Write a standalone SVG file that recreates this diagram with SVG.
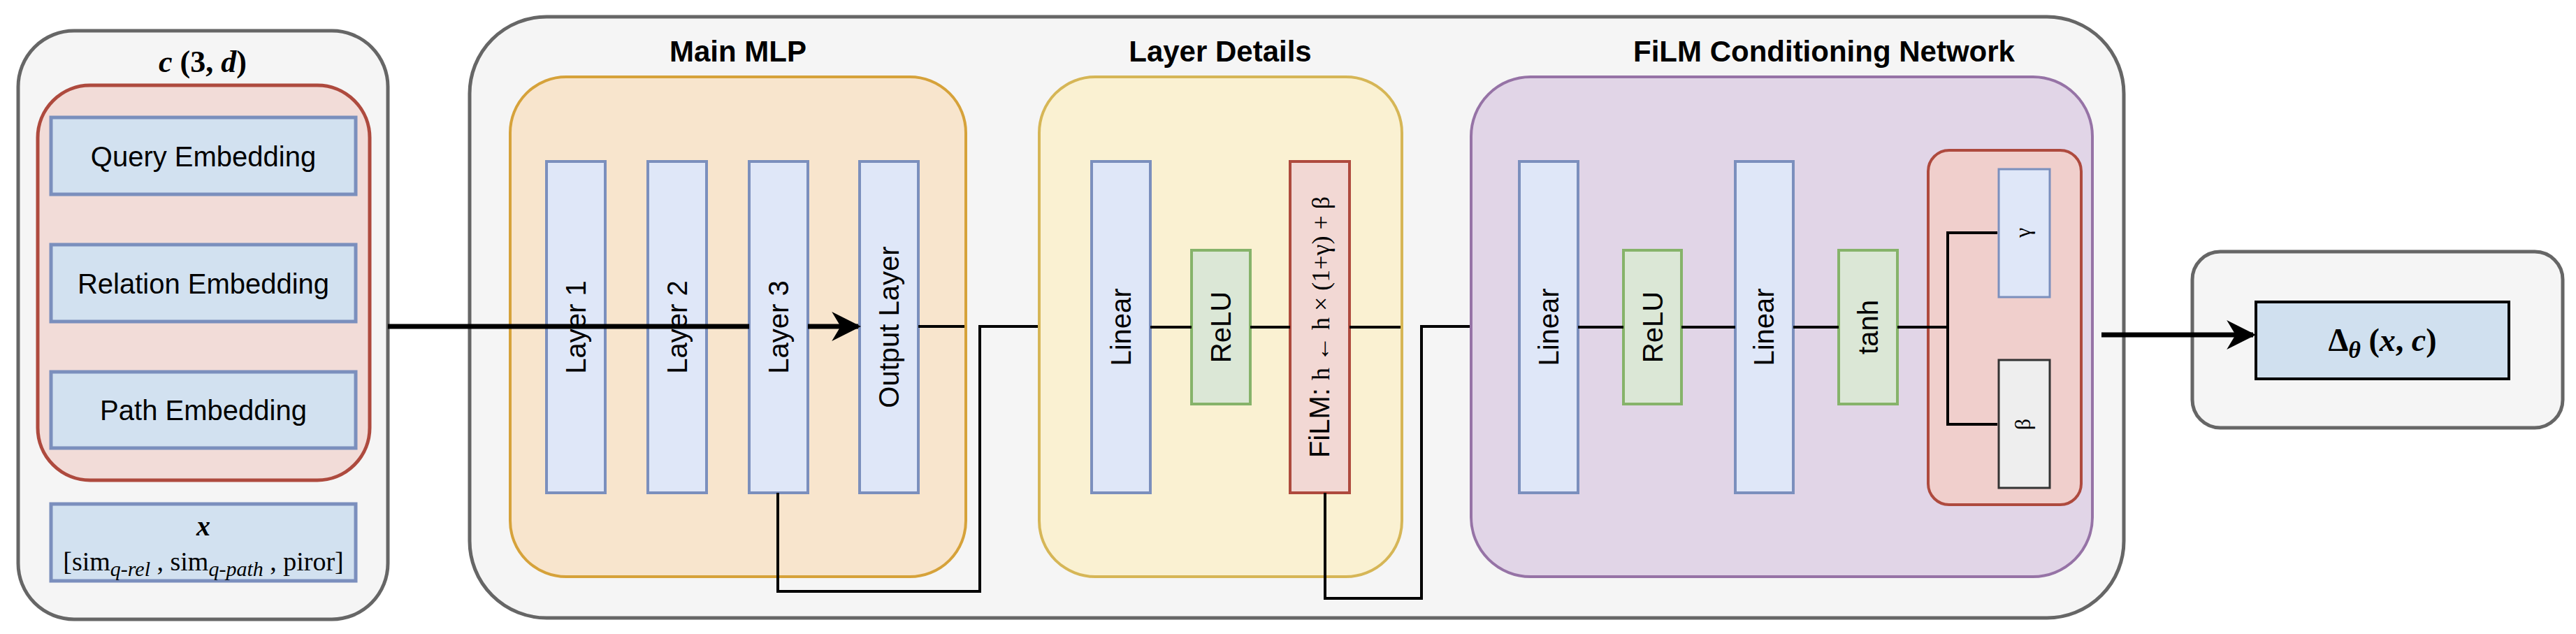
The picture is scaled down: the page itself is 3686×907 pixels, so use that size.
<svg xmlns="http://www.w3.org/2000/svg" width="3686" height="907" viewBox="0 0 3686 907">
<style>
.outer{fill:#f5f5f5;stroke:#666;stroke-width:5}
.blue{fill:#d2e1f0;stroke:#7b8fbd;stroke-width:5}
.lay{fill:#dfe7f8;stroke:#7b8fbd;stroke-width:4}
.grn{fill:#dbe7d6;stroke:#86b36a;stroke-width:4}
.t{font-family:"Liberation Sans",Arial,sans-serif;font-size:40px;fill:#000;text-anchor:middle}
.ti{font-family:"Liberation Sans",Arial,sans-serif;font-size:42px;font-weight:bold;fill:#000;text-anchor:middle}
.s{font-family:"Liberation Serif","Times New Roman",serif;fill:#000;text-anchor:middle}
.c{fill:none;stroke:#000;stroke-width:4}
.ck{fill:none;stroke:#000;stroke-width:7}
</style>
<defs>
<marker id="a" viewBox="0 0 10 10" refX="9" refY="5" markerWidth="5" markerHeight="5" markerUnits="userSpaceOnUse" orient="auto"><path d="M0,0 L10,5 L0,10 L3,5 Z" fill="#000"/></marker>
<marker id="ab" viewBox="0 0 10 10" refX="9" refY="5" markerWidth="6" markerHeight="6" orient="auto"><path d="M0,0 L10,5 L0,10 L3,5 Z" fill="#000"/></marker>
</defs>

<g id="input">
<rect class="outer" x="26" y="44" width="529" height="842" rx="80"/>
<text class="s" x="290" y="103" font-size="44" font-weight="bold" font-style="italic">c <tspan font-style="normal">(3, </tspan>d<tspan font-style="normal">)</tspan></text>
<rect x="54" y="122" width="475" height="565" rx="75" fill="#f2dcd8" stroke="#ae4a3e" stroke-width="5"/>
<rect class="blue" x="73" y="168" width="436" height="110"/>
<text class="t" x="291" y="238">Query Embedding</text>
<rect class="blue" x="73" y="350" width="436" height="110"/>
<text class="t" x="291" y="420">Relation Embedding</text>
<rect class="blue" x="73" y="532" width="436" height="109"/>
<text class="t" x="291" y="601">Path Embedding</text>
<rect class="blue" x="73" y="721" width="436" height="110"/>
<text class="s" x="291" y="766" font-size="40" font-weight="bold" font-style="italic">x</text>
<text class="s" x="291" y="816" font-size="38">[sim<tspan font-style="italic" font-size="30" dy="8">q-rel</tspan><tspan dy="-8"> , sim</tspan><tspan font-style="italic" font-size="30" dy="8">q-path</tspan><tspan dy="-8"> , piror]</tspan></text>
</g>

<g id="main">
<rect class="outer" x="672" y="24" width="2367" height="860" rx="110"/>
<text class="ti" x="1056" y="88">Main MLP</text>
<text class="ti" x="1746" y="88">Layer Details</text>
<text class="ti" x="2610" y="88">FiLM Conditioning Network</text>
</g>

<g id="mlp">
<rect x="730" y="110" width="652" height="715" rx="80" fill="#f8e5cd" stroke="#d6a23a" stroke-width="4"/>
<rect class="lay" x="782" y="231" width="84" height="474"/>
<rect class="lay" x="927" y="231" width="84" height="474"/>
<rect class="lay" x="1072" y="231" width="84" height="474"/>
<rect class="lay" x="1230" y="231" width="84" height="474"/>
<text class="t" transform="translate(838,468) rotate(-90)">Layer 1</text>
<text class="t" transform="translate(983,468) rotate(-90)">Layer 2</text>
<text class="t" transform="translate(1128,468) rotate(-90)">Layer 3</text>
<text class="t" transform="translate(1286,468) rotate(-90)">Output Layer</text>
</g>

<g id="details">
<rect x="1487" y="110" width="519" height="715" rx="80" fill="#faf1d2" stroke="#d6b656" stroke-width="4"/>
<rect class="lay" x="1562" y="231" width="84" height="474"/>
<text class="t" transform="translate(1618,468) rotate(-90)">Linear</text>
<rect class="grn" x="1705" y="358" width="84" height="220"/>
<text class="t" transform="translate(1761,468) rotate(-90)">ReLU</text>
<rect x="1846" y="231" width="85" height="474" fill="#f2d8d4" stroke="#ae4a3e" stroke-width="4"/>
<text class="t" transform="translate(1902,468) rotate(-90)">FiLM: <tspan class="s" font-size="36">h ← h × (1+γ) + β</tspan></text>
</g>

<g id="film">
<rect x="2105" y="110" width="889" height="715" rx="85" fill="#e1d5e7" stroke="#9673a6" stroke-width="4"/>
<rect class="lay" x="2174" y="231" width="84" height="474"/>
<text class="t" transform="translate(2230,468) rotate(-90)">Linear</text>
<rect class="grn" x="2323" y="358" width="83" height="220"/>
<text class="t" transform="translate(2379,468) rotate(-90)">ReLU</text>
<rect class="lay" x="2483" y="231" width="83" height="474"/>
<text class="t" transform="translate(2538,468) rotate(-90)">Linear</text>
<rect class="grn" x="2631" y="358" width="84" height="220"/>
<text class="t" transform="translate(2687,468) rotate(-90)">tanh</text>
<rect x="2759" y="215" width="219" height="507" rx="30" fill="#f0cfcc" stroke="#ae4a3e" stroke-width="4"/>
<rect x="2860" y="242" width="73" height="183" fill="#dfe7f8" stroke="#7b8fbd" stroke-width="3"/>
<text class="s" font-size="32" transform="translate(2905,333) rotate(-90)">γ</text>
<rect x="2860" y="515" width="73" height="183" fill="#eeeeee" stroke="#333" stroke-width="3"/>
<text class="s" font-size="32" transform="translate(2905,607) rotate(-90)">β</text>
</g>

<g id="output">
<rect class="outer" x="3137" y="360" width="530" height="252" rx="40"/>
<rect x="3228" y="432" width="362" height="110" fill="#d0e0ef" stroke="#000" stroke-width="4"/>
<text class="s" x="3409" y="502" font-size="46" font-weight="bold">Δ<tspan font-style="italic" font-size="34" dy="10">θ</tspan><tspan dy="-10"> (</tspan><tspan font-style="italic">x</tspan>, <tspan font-style="italic">c</tspan>)</text>
</g>

<g id="connectors">
<path class="ck" d="M555,467 H1072"/>
<path class="ck" d="M1156,467 H1228" marker-end="url(#ab)"/>
<path class="c" d="M1314,467 H1380" marker-end="url(#a)"/>
<path class="c" d="M1113,705 V846 H1402 V467 H1485" marker-end="url(#a)"/>
<path class="c" d="M1646,468 H1705 M1789,468 H1846"/>
<path class="c" d="M1931,468 H2004" marker-end="url(#a)"/>
<path class="c" d="M1896,705 V856 H2034 V467 H2103" marker-end="url(#a)"/>
<path class="c" d="M2258,468 H2323 M2406,468 H2483 M2566,468 H2631"/>
<path class="c" d="M2715,468 H2787 V333 H2858" marker-end="url(#a)"/>
<path class="c" d="M2787,468 V607 H2858" marker-end="url(#a)"/>
<path class="ck" d="M3007,479 H3224" marker-end="url(#ab)"/>
</g>
</svg>
